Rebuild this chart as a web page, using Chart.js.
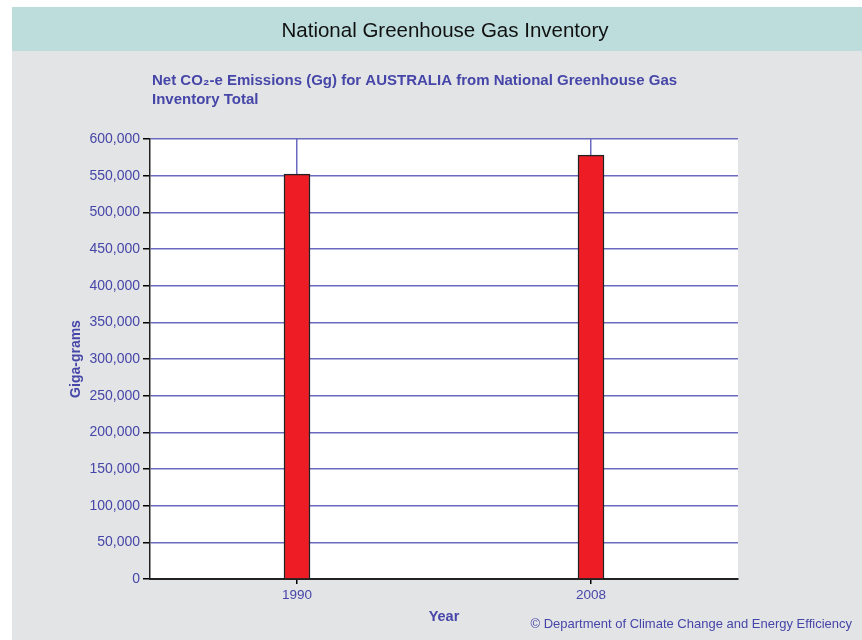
<!DOCTYPE html>
<html>
<head>
<meta charset="utf-8">
<script src="https://cdn.jsdelivr.net/npm/chart.js@4/dist/chart.umd.min.js"></script>
<style>
  body { margin: 0; background: #fff; }
  canvas { display: block; }
</style>
</head>
<body>
<canvas id="ghg-chart" width="862" height="640"></canvas>
<script>
const YEARS = ['1990', '2008'],
  EMISSIONS = [552000, 578000],
  Y_TICKS = { min: 0, max: 600000, step: 50000 };

const HEADER_TEXT = 'National Greenhouse Gas Inventory',
  SUBTITLE_LINES = ['Net CO\u2082-e Emissions (Gg) for AUSTRALIA from National Greenhouse Gas', 'Inventory Total'],
  FOOTER_TEXT = '\u00a9 Department of Climate Change and Energy Efficiency',

  FONT = '"Liberation Sans", Arial, sans-serif',
  BLUE_TEXT = '#4646a8',
  GRID_COLOR = '#6a6abf',
  PANEL_COLOR = '#e3e4e6',
  HEADER_COLOR = '#bddcdc',
  BAR_COLOR = '#ee1c25';

// backgrounds, header band, subtitle and footer are painted around the chart
const pagePlugin = {
  id: 'page',
  beforeDraw(chart) {
    const ctx = chart.ctx, area = chart.chartArea;
    ctx.save();
    ctx.fillStyle = '#fff';
    ctx.fillRect(0, 0, chart.width, chart.height);
    ctx.fillStyle = PANEL_COLOR;
    ctx.fillRect(12, 7, chart.width - 12, chart.height - 7);
    ctx.fillStyle = HEADER_COLOR;
    ctx.fillRect(12, 7, chart.width - 12, 44);
    ctx.fillStyle = '#fff';
    ctx.fillRect(area.left, area.top, area.right - area.left, area.bottom - area.top);

    ctx.fillStyle = '#111';
    ctx.font = '20.5px ' + FONT;
    ctx.textAlign = 'center';
    ctx.textBaseline = 'middle';
    ctx.fillText(HEADER_TEXT, 445, 31);

    ctx.fillStyle = BLUE_TEXT;
    ctx.font = 'bold 15px ' + FONT;
    ctx.textAlign = 'left';
    for (let i = 0; i < SUBTITLE_LINES.length; i++)
      ctx.fillText(SUBTITLE_LINES[i], 152, 81 + i * 19);

    ctx.font = '13px ' + FONT;
    ctx.textAlign = 'right';
    ctx.fillText(FOOTER_TEXT, 852, 624);
    ctx.restore();
  }
};

new Chart(document.getElementById('ghg-chart'), {
  type: 'bar',
  data: {
    labels: YEARS,
    datasets: [{
      data: EMISSIONS,
      backgroundColor: BAR_COLOR,
      borderColor: '#222',
      borderWidth: 1.5,
      barThickness: 26
    }]
  },
  options: {
    responsive: false,
    animation: false,
    layout: { padding: { left: 68, right: 124, top: 139, bottom: 0 } },
    plugins: {
      legend: { display: false },
      title: { display: false },
      tooltip: { enabled: false }
    },
    scales: {
      x: {
        afterFit(scale) { scale.height = 61; },
        grid: { offset: false, color: GRID_COLOR, lineWidth: 1.5, tickColor: '#000', tickLength: 5 },
        border: { color: '#222', width: 2 },
        ticks: { color: BLUE_TEXT, font: { family: FONT, size: 13.5 }, padding: 3 },
        title: {
          display: true, text: 'Year', color: BLUE_TEXT,
          font: { family: FONT, size: 14.5, weight: 'bold' },
          padding: { top: 0, bottom: 14 }
        }
      },
      y: {
        min: Y_TICKS.min,
        max: Y_TICKS.max,
        afterFit(scale) { scale.width = 82; },
        grid: { color: GRID_COLOR, lineWidth: 1.5, tickColor: '#000', tickLength: 7 },
        border: { color: '#222', width: 1.5 },
        ticks: {
          stepSize: Y_TICKS.step,
          color: BLUE_TEXT,
          font: { family: FONT, size: 14 },
          padding: 3,
          callback: v => v.toLocaleString('en-US')
        },
        title: {
          display: true, text: 'Giga-grams', color: BLUE_TEXT,
          font: { family: FONT, size: 14, weight: 'bold' },
          padding: { top: 0, bottom: 0 }
        }
      }
    }
  },
  plugins: [pagePlugin]
});
</script>
</body>
</html>
